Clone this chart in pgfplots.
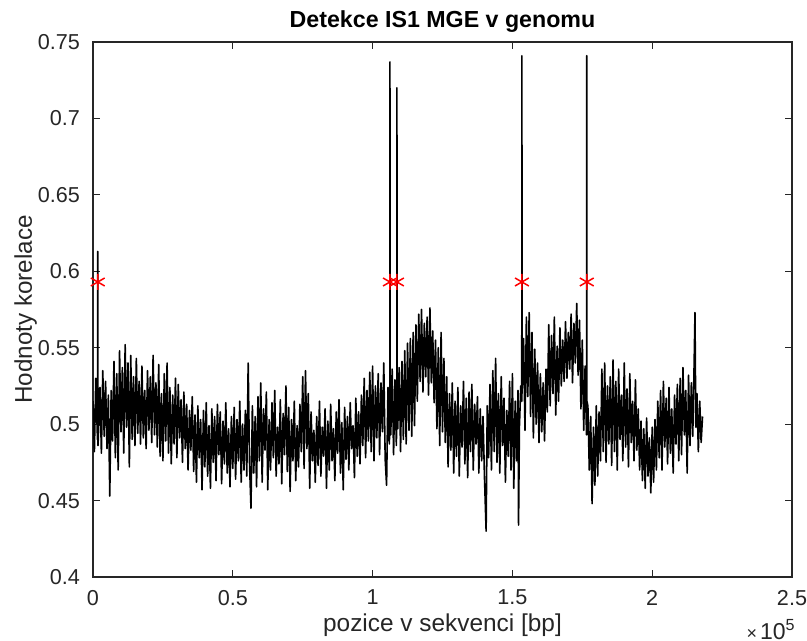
\documentclass[border=0pt]{standalone}
\usepackage{pgfplots}
\pgfplotsset{compat=1.18}
\usepackage{fontspec}
\setmainfont{Liberation Sans}
\definecolor{axgray}{RGB}{38,38,38}
\begin{document}
\begin{tikzpicture}
\begin{axis}[
  name=ax,
  scale only axis,
  width=349.5pt, height=267.5pt,
  xmin=0, xmax=250000, ymin=0.4, ymax=0.75,
  xtick={0,50000,100000,150000,200000,250000},
  xticklabels={0,0.5,1,1.5,2,2.5},
  ytick={0.4,0.45,0.5,0.55,0.6,0.65,0.7,0.75},
  yticklabels={0.4,0.45,0.5,0.55,0.6,0.65,0.7,0.75},
  scaled x ticks=false,
  scaled y ticks=false,
  tick align=inside,
  major tick length=3.5pt,
  every tick/.style={axgray, line width=0.6pt},
  axis line style={axgray, line width=0.65pt},
  tick label style={font=\fontsize{10.8}{12}\selectfont, text=axgray},
  yticklabel style={xshift=-3pt},
  xticklabel style={yshift=-3pt},
  every axis x label/.style={at={(axis description cs:0.5,-0.1028)}, anchor=base, font=\fontsize{12.2}{14}\selectfont, text=axgray},
  every axis y label/.style={at={(axis description cs:-0.0873,0.5)}, rotate=90, anchor=base, font=\fontsize{12.1}{14}\selectfont, text=axgray},
  xlabel={pozice v sekvenci [bp]},
  ylabel={Hodnoty korelace},
  title={Detekce IS1 MGE v genomu},
  every axis title/.style={at={(axis description cs:0.5,1)}, anchor=base, yshift=7pt, font=\bfseries\fontsize{11.6}{14}\selectfont, text=black},
  clip=true,
]
\addplot[black, line width=0.8pt, line join=round] coordinates {
(0,.515)(500,.482)(1000,.530)(1600,.490)(1700,.613)(1800,.486)(2500,.524)(3000,.481)(3500,.535)(4000,.492)(4500,.528)
(5000,.484)(5500,.519)(6000,.453)(6500,.522)(7000,.489)(7500,.541)(8000,.478)(8500,.533)(9000,.470)(9500,.548)
(10000,.495)(10500,.537)(11000,.481)(11500,.552)(12000,.498)(12500,.540)(13000,.472)(13500,.545)(14000,.490)(14500,.531)
(15000,.486)(15500,.543)(16000,.494)(16500,.528)(17000,.487)(17500,.538)(18000,.491)(18500,.522)(19000,.484)(19500,.535)
(20000,.496)(20500,.531)(21000,.488)(21500,.545)(22000,.493)(22500,.527)(23000,.485)(23500,.539)(24000,.479)(24500,.520)
(25000,.476)(25500,.533)(26000,.489)(26500,.540)(27000,.481)(27500,.524)(28000,.474)(28500,.519)(29000,.487)(29500,.530)
(30000,.478)(30500,.526)(31000,.491)(31500,.516)(32000,.475)(32500,.521)(33000,.484)(33500,.513)(34000,.470)(34500,.509)
(35000,.483)(35500,.518)(36000,.469)(36500,.506)(37000,.462)(37500,.512)(38000,.478)(38500,.503)(39000,.457)(39500,.509)
(40000,.472)(40500,.514)(41000,.466)(41500,.499)(42000,.458)(42500,.510)(43000,.475)(43500,.505)(44000,.463)(44500,.513)
(45000,.480)(45500,.508)(46000,.461)(46500,.502)(47000,.474)(47500,.514)(48000,.468)(48500,.497)(49000,.459)(49500,.505)
(50000,.471)(50500,.511)(51000,.464)(51500,.503)(52000,.476)(52500,.515)(53000,.462)(53500,.500)(54000,.470)(54500,.509)
(55000,.466)(55500,.540)(56000,.473)(56500,.445)(57000,.512)(57500,.468)(58000,.505)(58500,.459)(59000,.518)(59500,.476)
(60000,.527)(60500,.462)(61000,.510)(61500,.483)(62000,.521)(62500,.457)(63000,.503)(63500,.470)(64000,.514)(64500,.478)
(65000,.522)(65500,.466)(66000,.498)(66500,.474)(67000,.516)(67500,.461)(68000,.507)(68500,.480)(69000,.525)(69500,.469)
(70000,.511)(70500,.456)(71000,.503)(71500,.476)(72000,.515)(72500,.463)(73000,.499)(73500,.472)(74000,.513)(74500,.482)
(75000,.531)(75500,.471)(76000,.535)(76500,.484)(77000,.520)(77500,.458)(78000,.508)(78500,.476)(79000,.496)(79500,.462)
(80000,.505)(80500,.473)(81000,.515)(81500,.466)(82000,.498)(82500,.479)(83000,.510)(83500,.458)(84000,.502)(84500,.470)
(85000,.513)(85500,.476)(86000,.497)(86500,.463)(87000,.508)(87500,.481)(88000,.516)(88500,.468)(89000,.501)(89500,.457)
(90000,.511)(90500,.477)(91000,.505)(91500,.470)(92000,.514)(92500,.484)(93000,.499)(93500,.465)(94000,.517)(94500,.479)
(95000,.508)(95500,.474)(96000,.519)(96500,.486)(97000,.530)(97500,.478)(98000,.522)(98500,.489)(99000,.534)(99500,.482)
(100000,.538)(100500,.476)(101000,.525)(101500,.491)(102000,.533)(102500,.480)(103000,.527)(103500,.495)(104000,.540)(104500,.477)
(105000,.460)(105500,.524)(106000,.487)(106150,.505)(106200,.737)(106250,.500)(106500,.493)(107000,.536)(107500,.480)(108000,.529)(108500,.486)(108650,.510)(108700,.720)(108750,.505)(109000,.497)(109500,.537)
(110000,.482)(110500,.541)(111000,.490)(111500,.548)(112000,.487)(112500,.553)(113000,.496)(113500,.556)(114000,.492)(114500,.560)
(115000,.499)(115500,.565)(116000,.515)(116500,.572)(117000,.528)(117500,.575)(118000,.521)(118500,.566)(119000,.531)(119500,.570)
(120000,.519)(120500,.576)(121000,.527)(121500,.561)(122000,.514)(122500,.555)(123000,.497)(123500,.550)(124000,.486)(124500,.560)
(125000,.495)(125500,.543)(126000,.488)(126500,.531)(127000,.472)(127500,.520)(128000,.483)(128500,.527)(129000,.468)(129500,.515)
(130000,.479)(130500,.524)(131000,.466)(131500,.512)(132000,.485)(132500,.528)(133000,.474)(133500,.517)(134000,.465)(134500,.521)
(135000,.482)(135500,.526)(136000,.470)(136500,.513)(137000,.487)(137500,.518)(138000,.468)(138500,.510)(139000,.476)(139500,.505)
(140000,.466)(140600,.430)(141000,.512)(141500,.478)(142000,.526)(142500,.470)(143000,.535)(143500,.482)(144000,.543)(144500,.475)
(145000,.520)(145500,.468)(146000,.531)(146500,.486)(147000,.517)(147500,.462)(148000,.509)(148500,.479)(149000,.528)(149500,.470)
(150000,.533)(150500,.458)(151000,.515)(151500,.476)(152000,.522)(152200,.434)(152500,.498)(153000,.525)(153350,.515)(153400,.741)(153450,.520)(154000,.556)(154500,.496)
(155000,.570)(155500,.518)(156000,.573)(156500,.505)(157000,.560)(157500,.491)(158000,.549)(158500,.500)(159000,.540)(159500,.488)
(160000,.533)(160500,.495)(161000,.527)(161500,.489)(162000,.536)(162500,.508)(163000,.565)(163500,.512)(164000,.558)(164500,.520)
(165000,.570)(165500,.506)(166000,.551)(166500,.515)(167000,.563)(167500,.525)(168000,.555)(168500,.528)(169000,.567)(169500,.530)
(170000,.560)(170500,.536)(171000,.572)(171500,.527)(172000,.566)(172500,.540)(173000,.579)(173500,.532)(174000,.568)(174500,.510)
(175000,.555)(175500,.496)(176000,.538)(176500,.493)(176550,.520)(176600,.741)(176650,.515)(177000,.512)(177500,.470)(178000,.505)(178500,.448)(179000,.498)(179500,.460)
(180000,.512)(180500,.466)(181000,.508)(181500,.476)(182000,.536)(182500,.482)(183000,.540)(183500,.475)(184000,.525)(184500,.487)
(185000,.531)(185500,.473)(186000,.542)(186500,.482)(187000,.528)(187500,.470)(188000,.536)(188500,.490)(189000,.519)(189500,.476)
(190000,.540)(190500,.485)(191000,.523)(191500,.472)(192000,.533)(192500,.488)(193000,.515)(193500,.476)(194000,.529)(194500,.483)
(195000,.510)(195500,.470)(196000,.502)(196500,.463)(197000,.497)(197500,.458)(198000,.504)(198500,.466)(199000,.491)(199500,.455)
(200000,.498)(200500,.462)(201000,.503)(201500,.470)(202000,.515)(202500,.478)(203000,.522)(203500,.470)(204000,.528)(204500,.485)
(205000,.517)(205500,.474)(206000,.524)(206500,.481)(207000,.510)(207500,.468)(208000,.519)(208500,.487)(209000,.526)(209500,.476)
(210000,.530)(210500,.480)(211000,.537)(211500,.493)(212000,.522)(212500,.468)(213000,.532)(213500,.486)(214000,.527)(214500,.492)
(215000,.540)(215300,.573)(215600,.498)(216000,.520)(216500,.482)(217000,.515)(217500,.488)(218000,.505)
};
\addplot[only marks, mark=asterisk, mark size=4pt, red, line width=0.75pt] coordinates {
(1700,0.593)(106200,0.593)(108700,0.593)(153400,0.593)(176600,0.593)
};
\end{axis}
\node[anchor=base east, inner sep=0pt, text=axgray, font=\fontsize{11.5}{12}\selectfont] at ([xshift=2pt,yshift=-31pt]ax.south east) {{\fontsize{9}{10}\selectfont ×\,}10\textsuperscript{5}};
\pgfresetboundingbox
\path[use as bounding box] ([xshift=-46.5pt,yshift=-32pt]ax.south west) rectangle ([xshift=7.5pt,yshift=21pt]ax.north east);
\end{tikzpicture}
\end{document}
